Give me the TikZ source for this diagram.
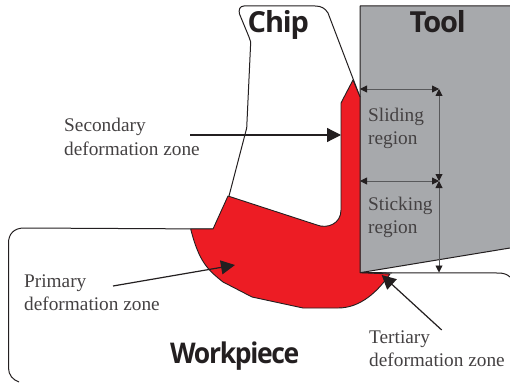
\documentclass[tikz,border=0pt]{standalone}
\usepackage{fontspec}
\setmainfont{Liberation Serif}
\newfontfamily\headfont[LetterSpace=-4]{Open Sans Bold}
\newfontfamily\workfont[LetterSpace=-5]{Open Sans Bold}
\usetikzlibrary{arrows.meta}
\definecolor{ink}{HTML}{231F20}
\definecolor{zonered}{HTML}{ED1C24}
\definecolor{toolgray}{HTML}{A7A9AC}
\definecolor{dimink}{HTML}{58595B}
\tikzset{
  outline/.style={draw=ink,line width=1pt,line join=round},
  lab/.style={anchor=base west,inner sep=0pt,align=left,text=ink!85,font=\fontsize{19.3}{23.5}\selectfont},
  head/.style={inner sep=0pt,text=ink,font=\headfont\fontsize{29}{29}\selectfont,anchor=base west},
  pointer/.style={draw=ink,line width=1.2pt,-{Triangle[length=14pt,width=14pt]},shorten >=0pt},
  dimline/.style={draw=dimink,line width=0.9pt,{Triangle[length=7pt,width=7pt,color=ink]}-{Triangle[length=7pt,width=7pt,color=ink]}}
}
\begin{document}
\begin{tikzpicture}[x=1pt,y=-1pt]
\useasboundingbox (0,0) rectangle (510,382);
% tool
\fill[toolgray] (360,6) -- (510,6) -- (510,248) -- (360,272.7) -- cycle;
\draw[outline] (510,6) -- (360,6) -- (360,272.7) -- (510,248);
% workpiece
\draw[outline] (213,229) -- (24,228) .. controls (14,228) and (8.5,234) .. (8.5,243)
  -- (8.5,368) .. controls (8.5,375) and (13,380) .. (19,382);
\draw[outline] (360,272.7) -- (498,273) .. controls (503,273) and (507,274) .. (510,277);
% chip
\draw[outline] (229,196) -- (246.7,128) -- (250.7,42) -- (249,37) -- (239.5,14)
  .. controls (238.5,10) and (239.5,6) .. (244,6) -- (315,6)
  .. controls (321,6) and (325,8) .. (328,13) -- (360,97);
% red zones
\fill[zonered,draw=ink,line width=0.9pt,line join=round]
  (228,196) -- (317,225) .. controls (327,229) and (341,224) .. (341,210)
  -- (341,103) -- (346.7,92) -- (353,80) -- (360,97) -- (360,272.7) -- (390,274)
  .. controls (378,291) and (361,308) .. (338,308) -- (303,308) -- (252,297)
  -- (223,282) .. controls (208,270) and (199,262) .. (190.7,229) -- (213,229) -- cycle;
\draw[draw=ink,line width=0.9pt] (360,272.7) -- (392,273);
% coordinates for connectors
\coordinate (secA) at (190,135);
\coordinate (secB) at (341,135);
\coordinate (priA) at (113,286);
\coordinate (priB) at (235,265);
\coordinate (terA) at (441.7,330);
\coordinate (terB) at (381.7,275);
\coordinate (slL) at (360,89);
\coordinate (slC) at (439,89);
\coordinate (midL) at (360,181);
\coordinate (midC) at (439,181);
\coordinate (botC) at (439,272.5);
% connectors
\draw[pointer] (secA) -- (secB);
\draw[pointer] (priA) -- (priB);
\draw[pointer] (terA) -- (terB);
\draw[dimline] (slL) -- (slC);
\draw[dimline] (midL) -- (midC);
\draw[dimline] (slC) -- (midC);
\draw[dimline] (midC) -- (botC);
% labels
\node[head] (chip) at (247.5,33) {Chip};
\node[head] (tool) at (409.5,33) {Tool};
\node[head,font=\workfont\fontsize{28.5}{28.5}\selectfont,xscale=0.93,transform shape] (work) at (170,363) {Workpiece};
\node[lab] (sec) at (64,155) {Secondary\\deformation zone};
\node[lab] (pri) at (24,310.5) {Primary\\deformation zone};
\node[lab] (ter) at (369,366.5) {Tertiary\\deformation zone};
\node[lab] (sli) at (368,144.5) {Sliding\\region};
\node[lab] (sti) at (368,233.5) {Sticking\\region};
\end{tikzpicture}
\end{document}
